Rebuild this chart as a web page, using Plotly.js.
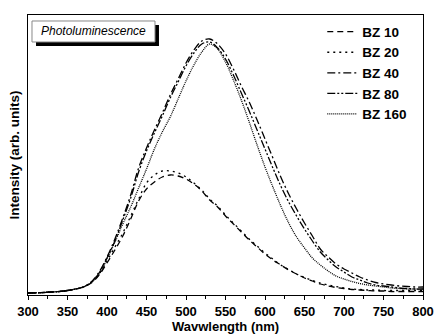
<!DOCTYPE html>
<html>
<head>
<meta charset="utf-8">
<script src="https://cdn.plot.ly/plotly-3.0.1.min.js"></script>
<style>html,body{margin:0;padding:0;background:#fff;}#chart{width:437px;height:334px;}</style>
</head>
<body>
<div id="chart"></div>
<script>
var wavelength = [300,310,320,330,340,350,360,370,380,390,400,410,420,430,440,450,460,470,480,490,500,510,520,530,540,550,560,570,580,590,600,610,620,630,640,650,660,670,680,690,700,710,720,730,740,750,760,770,780,790,800];
var bz10  = [2,2.2,2.5,3,3.5,4.5,6,8,12,20,32,45,59,76,94,106,113,118,120,119,116,111,104,95,88,79,71,63,55,48,41,35,30,25,21,17,14,11,9,7.5,6.5,5.5,5,4.5,4,4,3.5,3.5,3.5,3.5,3.5];
var bz20  = [2,2.2,2.5,3,3.5,4.5,6,8,12.5,21,34,48,62,79,96,112,120,124,124,122,118,112,105,96,89,80,72,64,56,49,42,36,30,25.5,21,17.5,14.5,12,10,8.5,7,6,5.5,5,5,4.5,4.5,4.5,4.5,4.5,4.5];
var bz40  = [2,2.2,2.5,3,3.5,4.5,6,8,13,23,38,56,77,100,127,147,165,182,200,216,232,245,254,256,251,241,226,209,193,175,156,137,118,101,86,72,59,46,38,31,26,22,18,15,12.5,11,10,9,8.5,8,8];
var bz80  = [2,2.2,2.5,3,3.5,4.5,6,8,13,22,37,54,75,97,123,144,162,179,197,213,229,242,251,253,247,236,220,202,184,165,146,127,109,93,79,66,54,43,35,28,23,18,15,12,10,9,8,7,6.5,6,6];
var bz160 = [2,2.2,2.5,3,3.5,4.5,6,8,12.5,21,36,53,71,88,107,126,146,163,178,196,214,230,243,251,246,233,215,195,173,150,128,108,89,72,58,47,37,30,24,19,16,13.5,11.5,10,9,8,7,6.5,6,6,6];
var seriesNames = ["BZ 10","BZ 20","BZ 40","BZ 80","BZ 160"];
var seriesData = [bz10, bz20, bz40, bz80, bz160];
var dashes = ["6px,4px","2px,4px","8px,3px,2px,3px","8px,2px,2px,2px,2px,2px","1px,1px"];
var xTicks = [300,350,400,450,500,550,600,650,700,750,800];

var traces = seriesNames.map(function(n,i){
  return {x: wavelength, y: seriesData[i], name: n, type:'scatter', mode:'lines',
    line:{color:'#000', width:1.3, dash:dashes[i], shape:'spline'}};
});

var FONT = 'Liberation Sans, Arial, sans-serif';
var layout = {
  width:437, height:334,
  margin:{l:28, r:14, t:15, b:39},
  paper_bgcolor:'#fff', plot_bgcolor:'#fff',
  showlegend:true,
  legend:{x:0.745, y:0.995, xanchor:'left', yanchor:'top', bgcolor:'rgba(0,0,0,0)', borderwidth:0,
    font:{family:FONT, size:13.5, color:'#000', weight:'bold'}, itemwidth:30, tracegroupgap:0},
  xaxis:{range:[300,800], tickvals:xTicks, ticks:'outside', ticklen:4, tickwidth:1, tickcolor:'#000',
    showline:true, mirror:true, linecolor:'#000', linewidth:1.3, showgrid:false, zeroline:false,
    tickfont:{family:FONT, size:13, color:'#000', weight:'bold'},
    minor:{dtick:25, tick0:300, ticks:'outside', ticklen:3, tickcolor:'#000', showgrid:false},
    title:{text:'Wavwlength (nm)', font:{family:FONT, size:13, color:'#000', weight:'bold'}, standoff:4}},
  yaxis:{range:[0,280], showticklabels:false, ticks:'', showline:true, mirror:true, linecolor:'#000',
    linewidth:1.3, showgrid:false, zeroline:false,
    title:{text:'Intensity (arb. units)', font:{family:FONT, size:13.5, color:'#000', weight:'bold'}, standoff:4}},
  shapes:[
    {type:'rect', xref:'paper', yref:'paper', x0:0.0203, x1:0.3316, y0:0.8893, y1:0.9643, fillcolor:'#000', line:{width:0}, layer:'above'},
    {type:'rect', xref:'paper', yref:'paper', x0:0.0101, x1:0.3215, y0:0.9036, y1:0.9786, fillcolor:'#fff', line:{color:'#888', width:1}, layer:'above'}
  ],
  annotations:[
    {text:'Photoluminescence', xref:'paper', yref:'paper', x:0.1658, y:0.9411, xanchor:'center', yanchor:'middle',
     showarrow:false, font:{family:FONT, size:12, color:'#000', style:'italic'}}
  ]
};
Plotly.newPlot('chart', traces, layout, {staticPlot:true, displayModeBar:false});
</script>
</body>
</html>
